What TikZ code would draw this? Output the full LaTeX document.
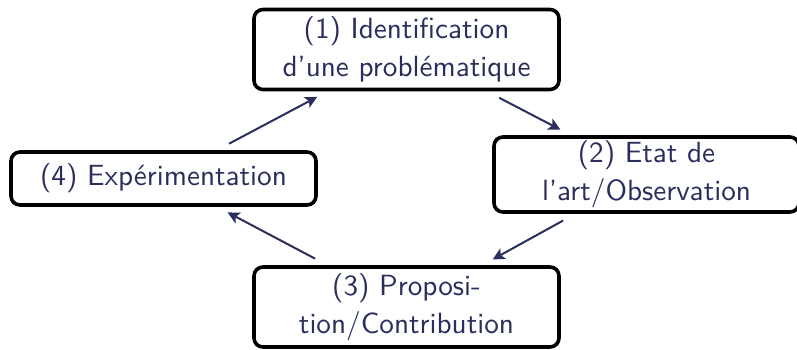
\documentclass[tikz,border=0pt]{standalone}
\usepackage{fontspec}
\setsansfont{lmsans10-regular.otf}
\usetikzlibrary{arrows.meta}
\definecolor{navy}{RGB}{42,46,92}
\begin{document}
\begin{tikzpicture}[x=0.5pt,y=-0.5pt,
  box/.style={draw=black, line width=1.8pt, rounded corners=4.5pt, text=navy,
    font=\sffamily\fontsize{14.6}{19}\selectfont, align=center,
    minimum width=152.5pt, inner sep=0pt},
  link/.style={draw=navy, line width=1pt, -{Stealth[length=6pt,width=6pt,inset=1.5pt]},
    shorten <=7pt, shorten >=6pt}]
\useasboundingbox (0,0) rectangle (797,349);
\node[box, minimum height=40pt] (n1) at (406.5,49.5) {(1) Identification\\d'une problématique};
\node[box, minimum height=37.5pt] (n2) at (646.5,174.5) {(2) Etat de\\l'art/Observation};
\node[box, minimum height=40pt] (n3) at (406.5,307) {(3) Proposi-\\tion/Contribution};
\node[box, minimum height=26.5pt] (n4) at (163.5,178.5) {(4) Expérimentation};
\draw[link] (n4) -- (n1);
\draw[link] (n1) -- (n2);
\draw[link] (n2) -- (n3);
\draw[link] (n3) -- (n4);
\end{tikzpicture}
\end{document}
